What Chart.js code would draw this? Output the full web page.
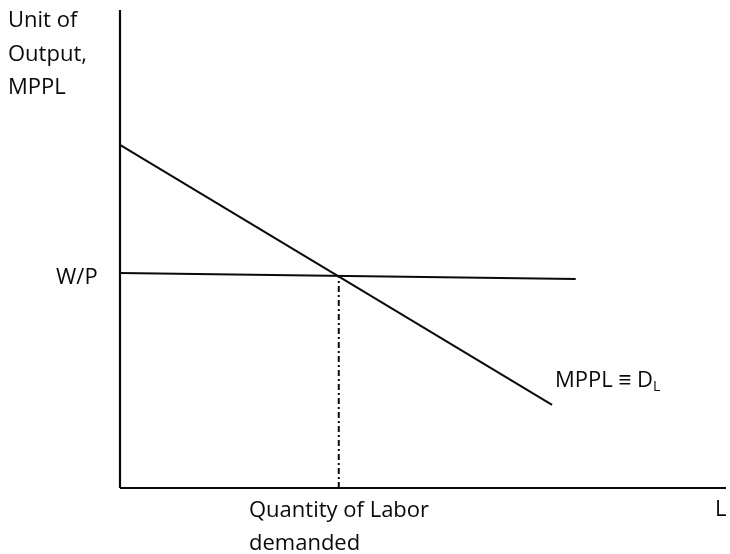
<!DOCTYPE html>
<html>
<head>
<meta charset="utf-8">
<script src="https://cdn.jsdelivr.net/npm/chart.js@4.4.1/dist/chart.umd.min.js"></script>
<style>
  body { margin: 0; background: #fff; }
  #wrap { width: 730px; height: 554px; }
</style>
</head>
<body>
<div id="wrap"><canvas id="chart" width="730" height="554"></canvas></div>
<script>
// values in chart units (x: quantity of labour 0-100, y: output 0-100)
const axisMax = 100;
const mpplX = [0, 71.3];
const mpplY = [71.8, 17.4];
const wageX = [0, 75.2];
const wageY = [45.0, 43.7];
const qDemanded = 36.1;
const qDemandedY = [0, 44.1];

const textFont = "22px 'Open Sans', sans-serif";
const ink = "#0a0a0a";

function pts(xs, ys) { return xs.map((x, i) => ({ x: x, y: ys[i] })); }

// text labels written onto the canvas after the lines
const labelPlugin = {
    id: "labels",
    afterDatasetsDraw(chart) {
        const ctx = chart.ctx;
        const y = chart.scales.y;
        ctx.save();
        ctx.fillStyle = ink;
        ctx.font = textFont;
        ctx.textBaseline = "alphabetic";
        ctx.textAlign = "left";
        ["Unit of", "Output,", "MPPL"].forEach((t, i) => ctx.fillText(t, 8, 27 + i * 33.5));
        ctx.fillText("W/P", 56, y.getPixelForValue(wageY[0]) + 11);
        ctx.fillText("MPPL \u2261 D", 555, 387);
        let w = ctx.measureText("MPPL \u2261 D").width;
        ctx.font = "14px 'Open Sans', sans-serif";
        ctx.fillText("L", 555 + w, 391);
        ctx.font = textFont;
        ctx.fillText("Quantity of Labor", 249, 517);
        ctx.fillText("demanded", 249, 550);
        ctx.fillText("L", 715, 516);
        ctx.restore();
    }
};

new Chart(document.getElementById("chart"), {
    type: "scatter",
    data: {
        datasets: [
            { data: pts([0, 0], [0, axisMax]), borderWidth: 2.2 },
            { data: pts([0, axisMax], [0, 0]), borderWidth: 2.2 },
            { data: pts(mpplX, mpplY), borderWidth: 2 },
            { data: pts(wageX, wageY), borderWidth: 2 },
            { data: pts([qDemanded, qDemanded], qDemandedY), borderWidth: 2, borderDash: [6, 3, 2, 3] }
        ].map(d => Object.assign({
            showLine: true,
            borderColor: ink,
            pointRadius: 0,
            clip: false,
            tension: 0
        }, d))
    },
    options: {
        responsive: false,
        animation: false,
        layout: { padding: { left: 120, right: 4, top: 10, bottom: 66 } },
        plugins: { legend: { display: false }, tooltip: { enabled: false } },
        scales: {
            x: { type: "linear", min: 0, max: axisMax, display: false },
            y: { type: "linear", min: 0, max: axisMax, display: false }
        }
    },
    plugins: [labelPlugin]
});
</script>
</body>
</html>
